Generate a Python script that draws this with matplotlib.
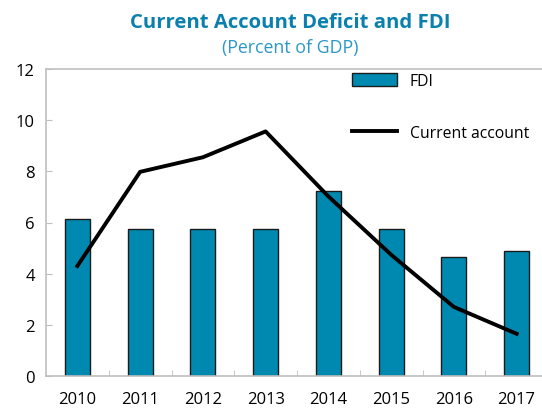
import numpy as np
import matplotlib.pyplot as plt

plt.rcParams['font.family'] = ['Open Sans', 'DejaVu Sans']

years = ['2010', '2011', '2012', '2013', '2014', '2015', '2016', '2017']
fdi = [6.15, 5.75, 5.75, 5.75, 7.22, 5.75, 4.65, 4.9]
current_account = [4.3, 7.98, 8.55, 9.56, 7.02, 4.74, 2.7, 1.65]

bar_color = '#0089B0'
grey = '#BFBFBF'

fig = plt.figure(figsize=(5.42, 4.10), dpi=100)
ax = fig.add_axes([46 / 542, 33 / 410, 502 / 542, 307 / 410])

x = np.arange(len(years))
bars = ax.bar(x, fdi, width=0.4, color=bar_color, edgecolor='#1a1a1a', linewidth=1.0,
              label='FDI', zorder=2)
line, = ax.plot(x, current_account, color='black', linewidth=2.8,
                label='Current account', zorder=3)

ax.set_xlim(-0.5, len(years) - 0.5)
ax.set_ylim(0, 12)
ax.set_yticks(np.arange(0, 13, 2))
ax.set_xticks(x)
ax.set_xticklabels(years)
ax.set_xticks(np.arange(0.5, len(years) - 0.5, 1), minor=True)

for s in ax.spines.values():
    s.set_color(grey)
    s.set_linewidth(1.2)

ax.tick_params(axis='y', direction='in', length=4, color=grey, labelsize=12, pad=8)
ax.tick_params(axis='x', which='major', length=0, labelsize=12, pad=11)
ax.tick_params(axis='x', which='minor', direction='in', length=4, color=grey)

fig.text(0.535, 0.945, 'Current Account Deficit and FDI', ha='center', va='center',
         fontsize=14.6, fontweight='bold', color='#0A80AE')
fig.text(0.535, 0.883, '(Percent of GDP)', ha='center', va='center',
         fontsize=12.8, color='#2A97C8')

ax.legend([bars, line], ['FDI', 'Current account'], loc='upper left',
          bbox_to_anchor=(0.581, 1.033), frameon=False, fontsize=11.3,
          handlelength=2.9, handleheight=0.9, labelspacing=2.3, handletextpad=0.8)

plt.savefig('out.png', dpi=100)
